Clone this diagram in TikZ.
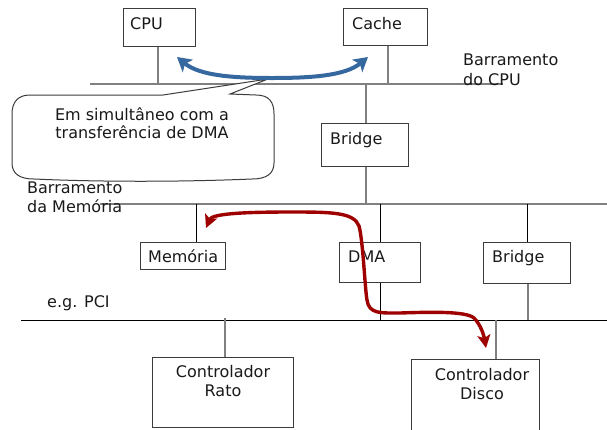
\documentclass[tikz,border=0pt]{standalone}
\usepackage{fontspec}
\setmainfont{DejaVu Sans}
\usetikzlibrary{arrows.meta}

\definecolor{busgray}{RGB}{128,128,128}
\definecolor{boxline}{RGB}{60,60,60}
\definecolor{cpublue}{RGB}{54,104,160}
\definecolor{dmared}{RGB}{158,0,0}

\tikzset{
  box/.style={draw=boxline, line width=1pt, rectangle, inner sep=0pt},
  lbl/.style={inner sep=0pt, font=\fontsize{16}{19}\selectfont, text=black!90},
  bus/.style={draw=busgray, line width=1.8pt},
  pcibus/.style={draw=black, line width=1pt},
  graystem/.style={draw=busgray, line width=1.3pt},
  blackstem/.style={draw=black, line width=0.9pt},
  callout/.style={draw=boxline, line width=1pt, fill=white},
  blueflow/.style={draw=cpublue, line width=4pt,
    {Stealth[length=14pt,width=16pt,inset=3.5pt]}-{Stealth[length=14pt,width=16pt,inset=3.5pt]}},
  redflow/.style={draw=dmared, line width=3.4pt,
    {Stealth[length=13pt,width=13pt,inset=3pt]}-{Stealth[length=13pt,width=13pt,inset=3pt]}}
}

\begin{document}
\begin{tikzpicture}[x=1pt,y=-1pt]
\clip (0,0) rectangle (607,429);

% ---- bus lines ----
\coordinate (cpubusL) at (90,84);
\coordinate (cpubusR) at (503,84);
\coordinate (membusL) at (100,204);
\coordinate (membusR) at (607,204);
\coordinate (pcibusL) at (21,320);
\coordinate (pcibusR) at (607,320);
\draw[bus] (cpubusL) -- (cpubusR);
\draw[bus] (membusL) -- (membusR);
\draw[pcibus] (pcibusL) -- (pcibusR);

% ---- boxes ----
\node[box, minimum width=72pt, minimum height=38pt] (cpu) at (159,27) {};
\node[box, minimum width=84pt, minimum height=37pt] (cache) at (385,26.5) {};
\node[box, minimum width=87pt, minimum height=43pt] (bridgeA) at (364.5,144.5) {};
\node[box, minimum width=85pt, minimum height=27pt] (mem) at (182.5,255.5) {};
\node[box, minimum width=81pt, minimum height=40pt] (dma) at (379.5,262) {};
\node[box, minimum width=87pt, minimum height=41pt] (bridgeB) at (526.5,262.5) {};
\node[box, minimum width=141pt, minimum height=70pt] (rato) at (222.5,392) {};
\node[box, minimum width=128pt, minimum height=82pt] (disco) at (475,400) {};

% ---- taps on the buses ----
\coordinate (cpuTap) at (158,84);
\coordinate (cacheTap) at (388,84);
\coordinate (brAup) at (366,84);
\coordinate (brAdown) at (366,204);
\coordinate (memTap) at (196,204);
\coordinate (dmaTap) at (380,204);
\coordinate (dmaPci) at (380,320);
\coordinate (brBup) at (527,204);
\coordinate (brBdown) at (528,320);
\coordinate (ratoTap) at (225,318);
\coordinate (discoTap) at (496,320);

% ---- stems ----
\draw[graystem] (cpu.south -| cpuTap) -- (cpuTap);
\draw[graystem] (cache.south -| cacheTap) -- (cacheTap);
\draw[graystem] (brAup) -- (bridgeA.north -| brAup);
\draw[graystem] (bridgeA.south -| brAdown) -- (brAdown);
\draw[blackstem] (memTap) -- (mem.north -| memTap);
\draw[blackstem] (dmaTap) -- (dma.north -| dmaTap);
\draw[blackstem] (dma.south -| dmaPci) -- (dmaPci);
\draw[blackstem] (brBup) -- (bridgeB.north -| brBup);
\draw[graystem] (bridgeB.south -| brBdown) -- (brBdown);
\draw[graystem] (ratoTap) -- (rato.north -| ratoTap);
\draw[graystem] (discoTap) -- (disco.north -| discoTap);

% ---- callout ----
\draw[callout] (30,95) -- (163,95) -- (268,79) -- (230,94) -- (256,95)
  .. controls (269,95) and (274,102) .. (274,114) -- (274,163)
  .. controls (274,174) and (266,179) .. (252,179)
  .. controls (180,182) and (100,182) .. (34,179)
  .. controls (20,179) and (12,174) .. (12,163) -- (12,114)
  .. controls (12,102) and (18,95) .. (30,95) -- cycle;

% ---- labels ----
\node[lbl, anchor=base west] (cpuT) at (130,29) {CPU};
\node[lbl, anchor=base west] (cacheT) at (352,29) {Cache};
\node[lbl, anchor=base west] (cpubusT1) at (463,65) {Barramento};
\node[lbl, anchor=base west] (cpubusT2) at (463,85) {do CPU};
\node[lbl, anchor=base] (noteT1) at (142,120) {Em simultâneo com a};
\node[lbl, anchor=base] (noteT2) at (142,138) {transferência de DMA};
\node[lbl, anchor=base west] (bridgeAT) at (330,144) {Bridge};
\node[lbl, anchor=base west] (membusT1) at (27,193) {Barramento};
\node[lbl, anchor=base west] (membusT2) at (27,212) {da Memória};
\node[lbl, anchor=base west] (memT) at (148,262) {Memória};
\node[lbl, anchor=base west] (dmaT) at (348,262) {DMA};
\node[lbl, anchor=base west] (bridgeBT) at (492,262) {Bridge};
\node[lbl, anchor=base west] (pciT) at (47,307) {e.g. PCI};
\node[lbl, anchor=base] (ratoT1) at (223,377) {Controlador};
\node[lbl, anchor=base] (ratoT2) at (223,396) {Rato};
\node[lbl, anchor=base] (discoT1) at (482,380) {Controlador};
\node[lbl, anchor=base] (discoT2) at (482,399) {Disco};

% ---- CPU <-> cache traffic ----
\coordinate (blueL) at (177,57);
\coordinate (blueR) at (368,57);
\draw[blueflow] (blueL) .. controls (200,76) and (235,78) .. (272,78)
  .. controls (310,78) and (345,76) .. (blueR);

% ---- DMA transfer path ----
\coordinate (redM) at (206,228);
\coordinate (redD) at (486,348);
\draw[redflow] (redM) .. controls (212,214) and (240,212) .. (290,212)
  .. controls (330,212) and (354,212) .. (359,226)
  .. controls (363,240) and (365,290) .. (367,300)
  .. controls (369,314) and (380,313) .. (400,313)
  .. controls (430,312) and (466,311) .. (474,318)
  .. controls (481,325) and (484,336) .. (redD);
\end{tikzpicture}
\end{document}
